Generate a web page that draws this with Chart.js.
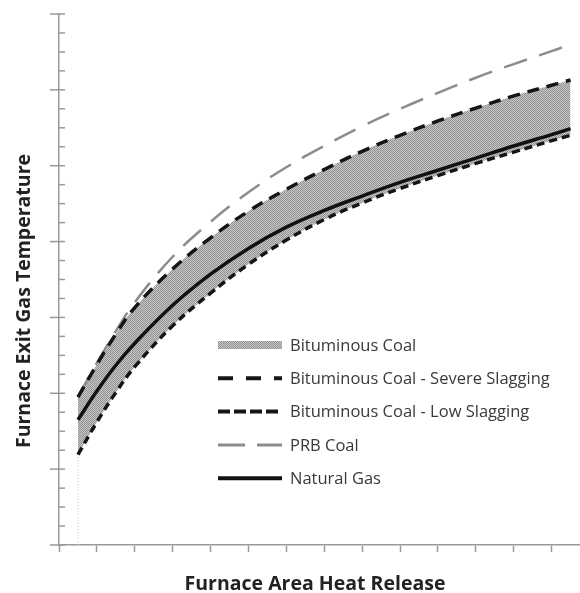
<!DOCTYPE html>
<html lang="en">
<head>
  <meta charset="UTF-8">
  <title>Furnace Exit Gas Temperature</title>
  <style>
    body {
      margin: 0;
      background: #fff;
    }

    #wrap {
      width: 580px;
      height: 593px;
    }
  </style>
</head>
<body>
  <div id="wrap"><canvas id="chart" width="580" height="593"></canvas></div>

  <script src="https://cdn.jsdelivr.net/npm/chart.js@4"></script>
  <script>
    // values, in axis tick units (no numbers on the original axes)
    const heatRelease = [0.5, 1, 1.5, 2, 3, 4, 5, 6, 7, 8, 9, 10, 11, 12, 13, 13.5];
    const severeSlagging = [1.95, 2.38, 2.78, 3.13, 3.64, 4.05, 4.40, 4.69, 4.95, 5.19, 5.40, 5.59, 5.76, 5.92, 6.06, 6.13];
    const lowSlagging = [1.19, 1.62, 2.01, 2.35, 2.89, 3.32, 3.70, 4.02, 4.29, 4.51, 4.70, 4.87, 5.03, 5.18, 5.33, 5.40];
    const naturalGas = [1.65, 2.03, 2.37, 2.66, 3.16, 3.57, 3.91, 4.19, 4.41, 4.60, 4.78, 4.94, 5.10, 5.26, 5.41, 5.49];
    const prbCoal = [1.95, 2.40, 2.82, 3.20, 3.80, 4.26, 4.65, 4.98, 5.26, 5.52, 5.75, 5.96, 6.16, 6.34, 6.51, 6.60];
    const dropLine = [0, 1.19];

    const legendLabels = [
      "Bituminous Coal",
      "Bituminous Coal - Severe Slagging",
      "Bituminous Coal - Low Slagging",
      "PRB Coal",
      "Natural Gas",
    ];
    const xTitle = "Furnace Area Heat Release";
    const yTitle = "Furnace Exit Gas Temperature";
    const xMax = 13.75;
    const yMax = 7;

    const toPoints = (vals) => vals.map((v, i) => ({ x: heatRelease[i], y: v }));

    // dotted grey fill like the original band
    function bandPattern() {
      const c = document.createElement("canvas");
      c.width = 2;
      c.height = 2;
      const g = c.getContext("2d");
      g.fillStyle = "#c6c6c6";
      g.fillRect(0, 0, 2, 2);
      g.fillStyle = "#939393";
      g.fillRect(0, 0, 1, 1);
      g.fillRect(1, 1, 1, 1);
      return g.createPattern(c, "repeat");
    }
    const band = bandPattern();

    const lineDefaults = {
      pointRadius: 0,
      tension: 0.4,
      borderCapStyle: "butt",
    };

    const datasets = [
      {
        ...lineDefaults,
        label: legendLabels[1],
        data: toPoints(severeSlagging),
        borderColor: "#151515",
        borderWidth: 3.5,
        borderDash: [12, 8],
        legendDash: [15, 13],
        fill: { target: 1 },
        backgroundColor: band,
      },
      {
        ...lineDefaults,
        label: legendLabels[2],
        data: toPoints(lowSlagging),
        borderColor: "#151515",
        borderWidth: 3.5,
        borderDash: [8, 5],
        legendDash: [12, 4],
        fill: false,
      },
      {
        ...lineDefaults,
        label: legendLabels[3],
        data: toPoints(prbCoal),
        borderColor: "#8c8c8c",
        borderWidth: 2.5,
        borderDash: [24, 13],
        legendDash: [27, 12],
        fill: false,
      },
      {
        ...lineDefaults,
        label: legendLabels[4],
        data: toPoints(naturalGas),
        borderColor: "#111",
        borderWidth: 3.5,
        borderDash: [],
        legendDash: [],
        fill: false,
      },
      {
        label: "drop",
        data: dropLine.map((v) => ({ x: heatRelease[0], y: v })),
        borderColor: "#cfcfcf",
        borderWidth: 1,
        borderDash: [1, 2],
        pointRadius: 0,
        fill: false,
      },
    ];

    // minor/major ticks on the value axis, axis titles and the in-plot legend
    const decor = {
      id: "decor",
      afterDraw(chart) {
        const { ctx, chartArea, scales } = chart;
        const y = scales.y;
        ctx.save();

        ctx.strokeStyle = "#999";
        ctx.lineWidth = 1.5;
        for (let v = 0; v <= yMax; v += 0.25) {
          const py = y.getPixelForValue(v);
          const major = v % 1 === 0;
          ctx.beginPath();
          ctx.moveTo(chartArea.left - (major ? 9 : 0), py);
          ctx.lineTo(chartArea.left + 6, py);
          ctx.stroke();
        }

        ctx.fillStyle = "#222";
        ctx.font = "bold 19.5px 'Open Sans'";
        ctx.textAlign = "center";
        ctx.textBaseline = "alphabetic";
        ctx.fillText(xTitle, 315, 590);
        ctx.save();
        ctx.translate(30, chartArea.top + 287);
        ctx.rotate(-Math.PI / 2);
        ctx.fillText(yTitle, 0, 0);
        ctx.restore();

        // legend
        const x0 = chartArea.left + 159;
        const x1 = x0 + 64;
        let rowY = chartArea.top + 331;
        ctx.font = "16.5px 'Open Sans'";
        ctx.textAlign = "left";
        ctx.textBaseline = "middle";
        legendLabels.forEach((label, i) => {
          if (i === 0) {
            ctx.fillStyle = band;
            ctx.fillRect(x0, rowY - 4, x1 - x0, 8);
          } else {
            const ds = chart.data.datasets[i - 1];
            ctx.strokeStyle = ds.borderColor;
            ctx.lineWidth = ds.borderWidth + 0.5;
            ctx.setLineDash(ds.legendDash);
            ctx.beginPath();
            ctx.moveTo(x0, rowY);
            ctx.lineTo(x1, rowY);
            ctx.stroke();
            ctx.setLineDash([]);
          }
          ctx.fillStyle = "#3a3a3a";
          ctx.fillText(label, x1 + 8, rowY + 1);
          rowY += 33.3;
        });

        ctx.restore();
      },
    };

    new Chart(document.getElementById("chart"), {
      type: "line",
      data: { datasets },
      plugins: [decor],
      options: {
        responsive: false,
        animation: false,
        layout: { padding: { left: 59, top: 14, right: 0, bottom: 41 } },
        plugins: {
          legend: { display: false },
          tooltip: { enabled: false },
          filler: { drawTime: "beforeDatasetsDraw" },
        },
        scales: {
          x: {
            type: "linear",
            min: 0,
            max: xMax,
            ticks: { display: false, stepSize: 1, includeBounds: false },
            grid: { drawOnChartArea: false, tickLength: 7, tickColor: "#999", tickWidth: 1.5 },
            border: { color: "#999", width: 1.5 },
          },
          y: {
            type: "linear",
            min: 0,
            max: yMax,
            ticks: { display: false, stepSize: 1 },
            grid: { drawOnChartArea: false, drawTicks: false },
            border: { color: "#999", width: 1.5 },
          },
        },
      },
    });
  </script>
</body>
</html>
